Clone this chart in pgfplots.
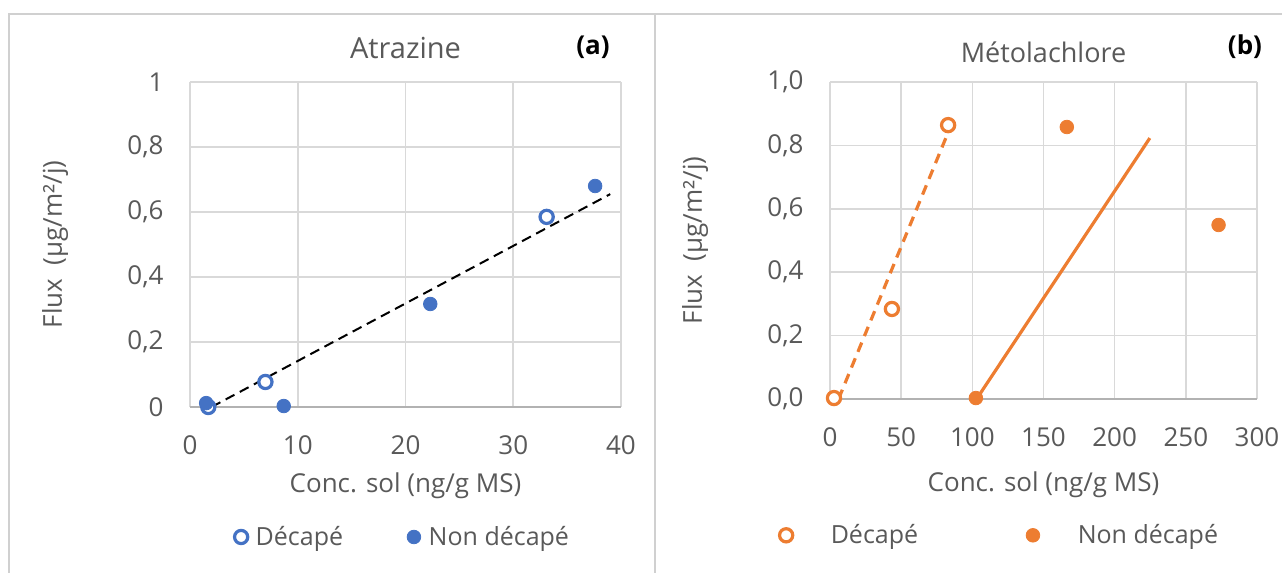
\documentclass[border=0pt]{standalone}
\usepackage{pgfplots}
\pgfplotsset{compat=1.18}
\usepackage{fontspec}
\setmainfont{Open Sans}
\definecolor{cblue}{HTML}{4472C4}
\definecolor{corange}{HTML}{ED7D31}
\definecolor{ctext}{HTML}{595959}
\definecolor{cgrid}{HTML}{D9D9D9}
\definecolor{cframe}{HTML}{D0D0D0}

\pgfplotsset{
  excelstyle/.style={
    scale only axis,
    anchor=south west,
    axis line style={draw=none},
    grid=major,
    grid style={cgrid, line width=0.8pt},
    major tick length=0pt,
    tick label style={font=\fontsize{13}{15}\selectfont, text=ctext},
    /pgf/number format/assume math mode=true,
    /pgf/number format/use comma,
    label style={font=\fontsize{13}{15}\selectfont, text=ctext},
    legend style={draw=none, font=\fontsize{12.5}{15}\selectfont, text=ctext, anchor=center},
    legend columns=2,
    legend cell align=left,
    clip=false,
  },
}

\begin{document}
\begin{tikzpicture}
\path[use as bounding box] (0,0) rectangle (641pt,286.5pt);
% panel frames
\draw[cframe, line width=0.8pt] (4.5pt,-2pt) -- (4.5pt,279.5pt) -- (641pt,279.5pt);
\draw[cframe, line width=0.8pt] (327.5pt,-2pt) -- (327.5pt,279.5pt);

% (a) Atrazine
\begin{axis}[excelstyle,
  at={(95pt,83pt)}, width=215.5pt, height=162.5pt,
  xmin=0, xmax=40, ymin=0, ymax=1,
  xtick={0,10,20,30,40}, ytick={0,0.2,0.4,0.6,0.8,1},
  xticklabel style={yshift=-11pt},
  yticklabel style={xshift=-9.7pt},
  title={Atrazine},
  title style={font=\fontsize{14.5}{17}\selectfont, text=ctext, at={(axis description cs:0.5,1)}, anchor=center, yshift=10.75pt},
  xlabel={Conc. sol (ng/g MS)},
  xlabel style={at={(axis description cs:0.5,0)}, anchor=center, yshift=-39.5pt},
  ylabel={Flux\ \ (µg/m²/j)},
  ylabel style={at={(axis description cs:-0.313,0.5)}, anchor=center},
  legend style={at={(axis description cs:0.496,-0.40)},
    /tikz/every odd column/.append style={column sep=2pt},
    /tikz/every even column/.append style={column sep=30pt}},
]
\draw[gray!60, line width=0.8pt] (rel axis cs:0,0) -- (rel axis cs:1,0);
\addplot[only marks, mark=*, mark size=3.3pt, cblue, mark options={fill=white, line width=1.6pt}]
  coordinates {(1.7,0.0) (7.0,0.077) (33.1,0.585)};
\addlegendentry{Décapé}
\addplot[only marks, mark=*, mark size=3.4pt, cblue, mark options={fill=cblue}]
  coordinates {(1.5,0.012) (8.7,0.003) (22.3,0.317) (37.6,0.68)};
\addlegendentry{Non décapé}
\addplot[forget plot, black, line width=1pt, dash pattern=on 5pt off 3pt]
  coordinates {(2.0,0) (39.0,0.655)};
\end{axis}

% (b) Metolachlore
\begin{axis}[excelstyle,
  at={(415pt,87pt)}, width=213.5pt, height=158.5pt,
  xmin=0, xmax=300, ymin=0, ymax=1,
  xtick={0,50,100,150,200,250,300}, ytick={0,0.2,0.4,0.6,0.8,1},
  yticklabel style={xshift=-9.7pt, /pgf/number format/.cd, fixed, fixed zerofill, precision=1},
  xticklabel style={yshift=-11pt},
  title={Métolachlore},
  title style={font=\fontsize{13.5}{16}\selectfont, text=ctext, at={(axis description cs:0.5,1)}, anchor=center, yshift=9pt},
  xlabel={Conc. sol (ng/g MS)},
  xlabel style={at={(axis description cs:0.5,0)}, anchor=center, yshift=-43pt},
  ylabel={Flux\ \ (µg/m²/j)},
  ylabel style={at={(axis description cs:-0.316,0.5)}, anchor=center},
  legend style={at={(axis description cs:0.40,-0.43)},
    /tikz/every odd column/.append style={column sep=17pt},
    /tikz/every even column/.append style={column sep=52pt}},
]
\draw[gray!60, line width=0.8pt] (rel axis cs:0,0) -- (rel axis cs:1,0);
\addplot[forget plot, corange, line width=1.6pt, dash pattern=on 5pt off 3.5pt]
  coordinates {(6,0) (82,0.83)};
\addplot[forget plot, corange, line width=1.6pt]
  coordinates {(103,0) (224.7,0.823)};
\addplot[only marks, mark=*, mark size=3.3pt, corange, mark options={fill=white, line width=1.6pt}]
  coordinates {(2.8,0.003) (43.5,0.284) (83,0.864)};
\addlegendentry{Décapé}
\addplot[only marks, mark=*, mark size=3.4pt, corange, mark options={fill=corange}]
  coordinates {(102.5,0.003) (166.4,0.858) (273,0.549)};
\addlegendentry{Non décapé}
\end{axis}

\node[font=\bfseries\fontsize{13}{15}\selectfont] at (296.5pt,263pt) {(a)};
\node[font=\bfseries\fontsize{13}{15}\selectfont] at (622.5pt,263pt) {(b)};
\end{tikzpicture}
\end{document}
